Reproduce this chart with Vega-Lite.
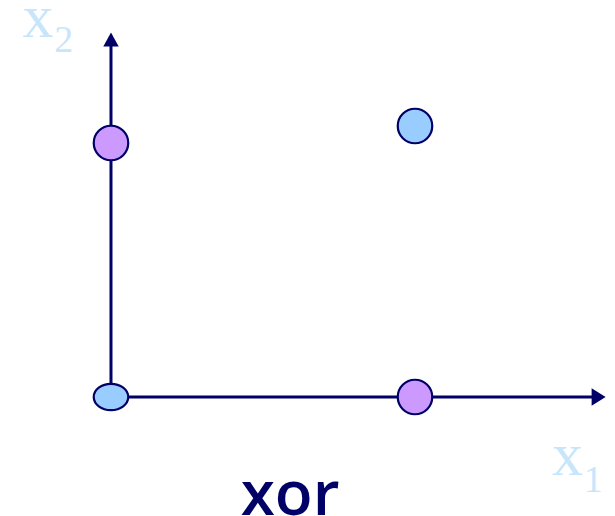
{
  "$schema": "https://vega.github.io/schema/vega-lite/v6.json",
  "width": 615,
  "height": 516,
  "padding": 0,
  "autosize": {"type": "none"},
  "config": {"view": {"stroke": null}},
  "resolve": {"scale": {"shape": "independent", "size": "independent", "fill": "independent"}},
  "datasets": {
    "axes": [
      {"axis": "x1", "x": 0, "y": 0, "x2": 1.592, "y2": 0},
      {"axis": "x2", "x": 0, "y": 0, "x2": 0, "y2": 1.39}
    ],
    "arrows": [
      {"axis": "x1", "x": 1.604, "y": 0, "dir": "right"},
      {"axis": "x2", "x": 0, "y": 1.4075, "dir": "up"}
    ],
    "points": [
      {"x1": 0, "x2": 0, "out": 0, "kind": "flat"},
      {"x1": 0, "x2": 1, "out": 1, "kind": "round"},
      {"x1": 1, "x2": 1.067, "out": 0, "kind": "round"},
      {"x1": 1, "x2": 0, "out": 1, "kind": "round"}
    ],
    "labels": [
      {"x": -0.24, "y": 1.417, "text": "x", "role": "main"},
      {"x": -0.155, "y": 1.358, "text": "2", "role": "sub"},
      {"x": 1.502, "y": -0.307, "text": "x", "role": "main"},
      {"x": 1.586, "y": -0.374, "text": "1", "role": "sub"}
    ],
    "title": [{"x": 0.589, "y": -0.4646, "text": "xor"}]
  },
  "layer": [
    {
      "data": {"name": "axes"},
      "mark": {"type": "rule", "color": "#000066", "strokeWidth": 3},
      "encoding": {
        "x": {"field": "x", "type": "quantitative", "scale": {"domain": [-0.3651, 1.6579], "nice": false, "zero": false}, "axis": null},
        "y": {"field": "y", "type": "quantitative", "scale": {"domain": [-0.4685, 1.563], "nice": false, "zero": false}, "axis": null},
        "x2": {"field": "x2"},
        "y2": {"field": "y2"}
      }
    },
    {
      "data": {"name": "arrows"},
      "mark": {"type": "point", "filled": true, "color": "#000066", "opacity": 1, "size": 196},
      "encoding": {
        "x": {"field": "x", "type": "quantitative", "scale": {"domain": [-0.3651, 1.6579], "nice": false, "zero": false}, "axis": null},
        "y": {"field": "y", "type": "quantitative", "scale": {"domain": [-0.4685, 1.563], "nice": false, "zero": false}, "axis": null},
        "shape": {"field": "dir", "type": "nominal", "scale": {"domain": ["right", "up"], "range": ["M1,0L-1,-1.25L-1,1.25Z", "M0,-1L1.1,1L-1.1,1Z"]}, "legend": null}
      }
    },
    {
      "data": {"name": "points"},
      "mark": {"type": "point", "filled": true, "opacity": 1, "stroke": "#000066", "strokeWidth": 2.2, "size": 1190},
      "encoding": {
        "x": {"field": "x1", "type": "quantitative", "scale": {"domain": [-0.3651, 1.6579], "nice": false, "zero": false}, "axis": null},
        "y": {"field": "x2", "type": "quantitative", "scale": {"domain": [-0.4685, 1.563], "nice": false, "zero": false}, "axis": null},
        "fill": {"field": "out", "type": "nominal", "scale": {"domain": [0, 1], "range": ["#99ccff", "#cc99ff"]}, "legend": null},
        "shape": {"field": "kind", "type": "nominal", "scale": {"domain": ["round", "flat"], "range": ["M-1,0A1,1 0 1,0 1,0A1,1 0 1,0 -1,0Z", "M-1,0A1,0.76 0 1,0 1,0A1,0.76 0 1,0 -1,0Z"]}, "legend": null}
      }
    },
    {
      "data": {"name": "labels"},
      "mark": {"type": "text", "font": "Liberation Serif", "color": "#c8e6fb", "align": "center", "baseline": "alphabetic"},
      "encoding": {
        "x": {"field": "x", "type": "quantitative", "scale": {"domain": [-0.3651, 1.6579], "nice": false, "zero": false}, "axis": null},
        "y": {"field": "y", "type": "quantitative", "scale": {"domain": [-0.4685, 1.563], "nice": false, "zero": false}, "axis": null},
        "text": {"field": "text"},
        "size": {"field": "role", "type": "nominal", "scale": {"domain": ["main", "sub"], "range": [62, 38]}, "legend": null}
      }
    },
    {
      "data": {"name": "title"},
      "mark": {"type": "text", "font": "Open Sans", "fontWeight": 600, "fontSize": 62, "color": "#000066", "align": "center", "baseline": "alphabetic"},
      "encoding": {
        "x": {"field": "x", "type": "quantitative", "scale": {"domain": [-0.3651, 1.6579], "nice": false, "zero": false}, "axis": null},
        "y": {"field": "y", "type": "quantitative", "scale": {"domain": [-0.4685, 1.563], "nice": false, "zero": false}, "axis": null},
        "text": {"field": "text"}
      }
    }
  ]
}
